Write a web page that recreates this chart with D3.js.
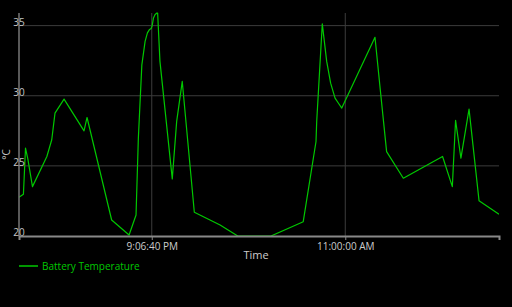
<!DOCTYPE html>
<html>
<head>
<meta charset="utf-8">
<script src="https://cdn.jsdelivr.net/npm/d3@7"></script>
<style>
  html, body { margin: 0; padding: 0; background: #000; }
  svg { display: block; font-family: "Open Sans", "Noto Sans", sans-serif; }
</style>
</head>
<body>
<svg id="chart"></svg>
<script>
// ---- data ----
const times = [
  "2021-01-01 11:35", "2021-01-01 11:54", "2021-01-01 12:03", "2021-01-01 12:13", "2021-01-01 12:33",
  "2021-01-01 13:35", "2021-01-01 13:56", "2021-01-01 14:10", "2021-01-01 14:49", "2021-01-01 16:15",
  "2021-01-01 16:28", "2021-01-01 18:14", "2021-01-01 19:29", "2021-01-01 19:59", "2021-01-01 20:09",
  "2021-01-01 20:24", "2021-01-01 20:38", "2021-01-01 20:48", "2021-01-01 20:56", "2021-01-01 21:04",
  "2021-01-01 21:08", "2021-01-01 21:14", "2021-01-01 21:21", "2021-01-01 21:29", "2021-01-01 21:32",
  "2021-01-01 21:42", "2021-01-01 22:35", "2021-01-01 22:54", "2021-01-01 23:18", "2021-01-02 00:10",
  "2021-01-02 02:01", "2021-01-02 03:17", "2021-01-02 05:40", "2021-01-02 07:59", "2021-01-02 08:54",
  "2021-01-02 08:57", "2021-01-02 09:21", "2021-01-02 09:40", "2021-01-02 09:57", "2021-01-02 10:16",
  "2021-01-02 10:30", "2021-01-02 10:45", "2021-01-02 13:08", "2021-01-02 13:30", "2021-01-02 13:58",
  "2021-01-02 15:10", "2021-01-02 17:59", "2021-01-02 18:41", "2021-01-02 18:55", "2021-01-02 19:18",
  "2021-01-02 19:53", "2021-01-02 20:36", "2021-01-02 22:02"
];
const temps = [
  22.76, 22.98, 26.26, 25.5, 23.52,
  25.67, 26.86, 28.76, 29.76, 27.5,
  28.45, 21.14, 20.07, 21.5, 26.98,
  32.2, 33.88, 34.48, 34.7, 34.79,
  34.95, 35.55, 35.79, 35.9, 35.9,
  32.45, 24.07, 28.17, 31.02, 21.69,
  20.79, 20.0, 20.0, 21.02, 26.74,
  28.17, 35.12, 32.45, 30.9, 29.83,
  29.48, 29.12, 34.17, 30.55, 26.02,
  24.12, 25.67, 23.52, 28.24, 25.55,
  29.05, 22.52, 21.55
];
const yTicks = [20, 25, 30, 35];
const xTicks = ["2021-01-01 21:06:40", "2021-01-02 11:00:00"];
const seriesName = "Battery Temperature";

// ---- setup ----
const width = 512, height = 307;
const margin = { top: 13, right: 13, bottom: 71, left: 19 };
const green = "#00c800";

const parse = d3.timeParse("%Y-%m-%d %H:%M");
const parseS = d3.timeParse("%Y-%m-%d %H:%M:%S");
const data = times.map((t, i) => ({ t: parse(t), v: temps[i] }));

const svg = d3.select("#chart").attr("width", width).attr("height", height);

const x = d3.scaleTime()
  .domain(d3.extent(data, d => d.t))
  .range([margin.left, width - margin.right]);
const y = d3.scaleLinear()
  .domain([20, d3.max(temps)])
  .range([height - margin.bottom, margin.top]);

const plotBottom = height - margin.bottom;

// grid lines
svg.append("g")
  .selectAll("line")
  .data(yTicks.filter(d => d > 20))
  .join("line")
    .attr("x1", margin.left).attr("x2", width - margin.right)
    .attr("y1", d => y(d)).attr("y2", d => y(d))
    .attr("stroke", "#3c3c3c").attr("stroke-width", 1);

svg.append("g")
  .selectAll("line")
  .data(xTicks.map(parseS))
  .join("line")
    .attr("x1", d => x(d)).attr("x2", d => x(d))
    .attr("y1", margin.top).attr("y2", plotBottom)
    .attr("stroke", "#3c3c3c").attr("stroke-width", 1);

// series line (clipped to plot area)
svg.append("clipPath").attr("id", "clip")
  .append("rect")
    .attr("x", margin.left).attr("y", margin.top - 1)
    .attr("width", width - margin.left - margin.right)
    .attr("height", plotBottom - margin.top + 1);

svg.append("path")
  .datum(data)
  .attr("clip-path", "url(#clip)")
  .attr("fill", "none")
  .attr("stroke", green)
  .attr("stroke-width", 1.2)
  .attr("stroke-linejoin", "round")
  .attr("d", d3.line().x(d => x(d.t)).y(d => y(d.v)));

// y axis
svg.append("line")
  .attr("x1", margin.left).attr("x2", margin.left)
  .attr("y1", margin.top).attr("y2", plotBottom)
  .attr("stroke", "#777").attr("stroke-width", 1.5);

svg.append("g")
  .selectAll("text")
  .data(yTicks)
  .join("text")
    .attr("x", margin.left)
    .attr("y", d => y(d))
    .attr("text-anchor", "middle")
    .attr("fill", "#c4c4c4")
    .attr("font-size", 10)
    .text(d => d);

svg.append("text")
  .attr("transform", `translate(10,${(margin.top + plotBottom) / 2 + 30}) rotate(-90)`)
  .attr("text-anchor", "middle")
  .attr("fill", "#c4c4c4")
  .attr("font-size", 10)
  .text("°C");

// x axis
const xAxis = d3.axisBottom(x)
  .tickValues(xTicks.map(parseS))
  .tickFormat(d3.timeFormat("%-I:%M:%S %p"))
  .tickSize(4)
  .tickPadding(3);

const gx = svg.append("g")
  .attr("transform", `translate(0,${plotBottom})`)
  .call(xAxis);
gx.select(".domain").attr("stroke", "#888").attr("stroke-width", 2);
gx.selectAll(".tick line").attr("stroke", "#888");
gx.selectAll(".tick text")
  .attr("fill", "#ccc")
  .attr("font-size", 10)
  .attr("font-family", "\"Open Sans\", \"Noto Sans\", sans-serif");

svg.append("text")
  .attr("x", 256)
  .attr("y", 259)
  .attr("text-anchor", "middle")
  .attr("fill", "#ccc")
  .attr("font-size", 11)
  .text("Time");

// legend
svg.append("line")
  .attr("x1", 19).attr("x2", 38)
  .attr("y1", 266).attr("y2", 266)
  .attr("stroke", green).attr("stroke-width", 1.5);
svg.append("text")
  .attr("x", 42).attr("y", 270)
  .attr("fill", green)
  .attr("font-size", 10)
  .text(seriesName);
</script>
</body>
</html>
